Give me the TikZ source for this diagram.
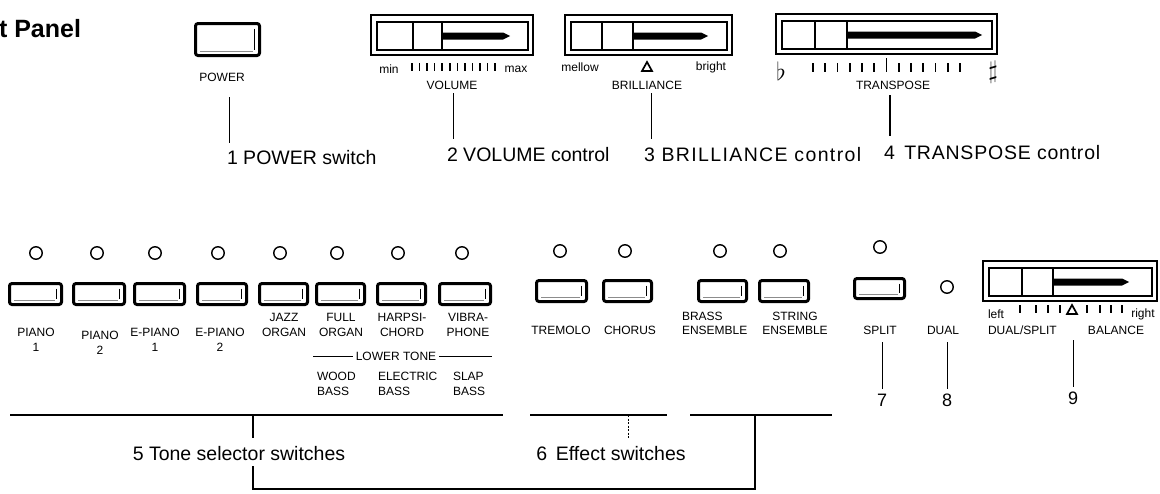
\documentclass[tikz,border=0pt]{standalone}
\usepackage{fontspec}
\setmainfont{Liberation Sans}
\usetikzlibrary{calc}
\tikzset{
  every node/.style={inner sep=0pt, outer sep=0pt},
  big/.style={font=\fontsize{19.5}{22}\selectfont},
  lbl/.style={font=\fontsize{12}{14.5}\selectfont, align=center},
  lbll/.style={font=\fontsize{12}{14.5}\selectfont, align=left},
  num/.style={font=\fontsize{18}{20}\selectfont},
  ttl/.style={font=\fontsize{25}{28}\selectfont\bfseries},
  btn/.style={draw, line width=3pt, rounded corners=2.5pt},
  led/.style={circle, draw, line width=1.4pt, minimum size=12.5pt},
  ldr/.style={line width=0.9pt},
  brk/.style={line width=1.2pt},
  tk/.style={line width=1.6pt},
  tri/.style={line width=1.7pt, line join=miter},
}
\newcommand\pushbtn[5]{%
  \node[btn, minimum width=#4pt-3pt, minimum height=#5pt-3pt] (#1) at (#2,#3) {};
  \draw[line width=1pt] ([xshift=-5pt,yshift=-5pt]#1.north east) -- ([xshift=-5pt,yshift=5.5pt]#1.south east);
  \draw[line width=0.6pt, black!45] ([xshift=4.5pt,yshift=4pt]#1.south west) -- ([xshift=-6.5pt,yshift=4pt]#1.south east);
}
\newcommand\slidr[8]{%
  \draw[line width=1.1pt] (#2-6,#3-7) rectangle (#4+5,#5+5);
  \draw[line width=2.4pt] (#2,#3) rectangle (#4,#5);
  \draw[line width=2.8pt] (#6,#3) -- (#6,#5);
  \draw[line width=2.8pt] (#7,#3) -- (#7,#5);
  \fill (#7,{(#3+#5)/2-3.5}) -- (#8-7,{(#3+#5)/2-3.5}) -- (#8,{(#3+#5)/2}) -- (#8-7,{(#3+#5)/2+3.5}) -- (#7,{(#3+#5)/2+3.5}) -- cycle;
  \coordinate (#1) at ({(#2+#4)/2},{(#3+#5)/2});
}
\begin{document}
\begin{tikzpicture}[x=1pt, y=-1pt]
\fill[white] (0,0) rectangle (1160,493);
\useasboundingbox (0,0) rectangle (1160,493);

% title
\node[ttl, anchor=west] (title) at (-1,29) {t Panel};

% ---------- top row ----------
\pushbtn{bpower}{227.5}{39.5}{67}{35}
\node[lbl] (lpower) at (222,77) {POWER};

\slidr{svol}{377}{22}{528}{50}{413}{442}{510}
\node[lbl] (lmin) at (389,69) {min};
\node[lbl] (lmax) at (516,69) {max};
\foreach \i in {0,...,11} \draw[tk] ({412+\i*7.55},63) -- ({412+\i*7.55},71);
\node[lbl] (lvolume) at (452,85) {VOLUME};

\slidr{sbri}{571}{22}{727}{50}{602}{633}{708}
\node[lbl] (lmellow) at (580,67) {mellow};
\node[lbl] (lbright) at (711,67) {bright};
\draw[tri] (642,71) -- (652,71) -- (647,62) -- cycle;
\node[lbl] (lbrill) at (647,85) {BRILLIANCE};

\slidr{stra}{782}{21}{992}{49}{815}{847}{982}
\node[font=\fontsize{23}{24}\selectfont] (lflat) at (781,71) {$\flat$};
\node[font=\fontsize{23}{24}\selectfont] (lsharp) at (993,72) {$\sharp$};
\foreach \i in {0,...,12} \draw[tk] ({813+\i*12.25},63) -- ({813+\i*12.25},72);
\draw[tk] (886.5,58) -- (886.5,72);
\node[lbl] (ltrans) at (893,85) {TRANSPOSE};

% top captions
\node[big, anchor=west] (t1) at (227,158) {1 POWER switch};
\node[big, anchor=west] (t2) at (447,155) {2 VOLUME control};
\node[big, anchor=west] (t3) at (644,155) {\addfontfeatures{LetterSpace=7}3 BRILLIANCE control};
\node[big, anchor=west] (t4) at (884,153) {\addfontfeatures{LetterSpace=4}4\, TRANSPOSE control};

\coordinate (c1) at (229,97);
\coordinate (c2) at (453,93);
\coordinate (c3) at (651,93);
\coordinate (c4) at (890,95);
\draw[ldr, shorten >=8pt] (c1) -- (c1 |- t1.north);
\draw[ldr, shorten >=9pt] (c2) -- (c2 |- t2.north);
\draw[ldr, shorten >=9pt] (c3) -- (c3 |- t3.north);
\draw[ldr, line width=1.2pt, shorten >=10pt] (c4) -- (c4 |- t4.north);

% ---------- tone selector row ----------
\foreach \n/\x in {1/36, 2/97, 3/155, 4/218, 5/280, 6/337, 7/398, 8/462}
  \node[led] (led\n) at (\x,253) {};
\pushbtn{b1}{35.5}{294}{55}{24}
\pushbtn{b2}{99}{294}{54}{24}
\pushbtn{b3}{159.5}{294}{53}{24}
\pushbtn{b4}{222}{294}{52}{24}
\pushbtn{b5}{283.5}{294}{51}{24}
\pushbtn{b6}{340.5}{294}{51}{24}
\pushbtn{b7}{401.5}{294}{51}{24}
\pushbtn{b8}{465}{294}{54}{24}

\node[lbl] (lp1) at (36,340) {PIANO\\1};
\node[lbl] (lp2) at (100,343) {PIANO\\2};
\node[lbl] (lep1) at (155,340) {E-PIANO\\1};
\node[lbl] (lep2) at (220,340) {E-PIANO\\2};
\node[lbl] (ljazz) at (284,325) {JAZZ\\ORGAN};
\node[lbl] (lfull) at (341,325) {FULL\\ORGAN};
\node[lbl] (lharp) at (402,325) {HARPSI-\\CHORD};
\node[lbl] (lvib) at (468,325) {VIBRA-\\PHONE};

\node[lbl] (llower) at (396,356) {LOWER TONE};
\coordinate (lt1) at (313,356);
\coordinate (lt2) at (492,356);
\draw[ldr] (lt1) -- ([xshift=-3pt]llower.west);
\draw[ldr] ([xshift=3pt]llower.east) -- (lt2);
\node[lbll, anchor=west] (lwood) at (317,384) {WOOD\\BASS};
\node[lbll, anchor=west] (lelec) at (378,384) {ELECTRIC\\BASS};
\node[lbll, anchor=west] (lslap) at (453,384) {SLAP\\BASS};

% ---------- effect row ----------
\foreach \n/\x in {9/560, 10/625, 11/720, 12/780}
  \node[led] (led\n) at (\x,251) {};
\node[led] (ledsplit) at (880,247) {};
\node[led] (leddual) at (947,287) {};
\pushbtn{btrem}{561.5}{291}{53}{24}
\pushbtn{bchor}{627.5}{291}{51}{24}
\pushbtn{bbrass}{722.5}{291}{51}{24}
\pushbtn{bstring}{784}{291}{52}{24}
\pushbtn{bsplit}{879.5}{288.5}{53}{23}

\node[lbl] (ltrem) at (561,330) {TREMOLO};
\node[lbl] (lchor) at (630,330) {CHORUS};
\node[lbll, anchor=west] (lbrass) at (682,323.5) {BRASS\\ENSEMBLE};
\node[lbl] (lstring) at (795,323.5) {STRING\\ENSEMBLE};
\node[lbl] (lsplit) at (880,330) {SPLIT};
\node[lbl] (ldual) at (943,330) {DUAL};

% balance slider
\slidr{sbal}{989}{268}{1152}{296}{1022}{1053}{1129}
\node[lbl] (lleft) at (996,314) {left};
\node[lbl] (lright) at (1143,314) {right};
\foreach \x in {1020,1036,1048,1060,1087,1100,1111,1122} \draw[tk] (\x,305) -- (\x,313);
\draw[tri] (1067,314) -- (1077,314) -- (1072,305) -- cycle;
\node[lbll, anchor=west] (ldualsplit) at (988,330) {DUAL/SPLIT};
\node[lbl] (lbalance) at (1116,330) {BALANCE};

\node[num] (n7) at (882,400) {7};
\node[num] (n8) at (947,400) {8};
\node[num] (n9) at (1073,398) {9};
\coordinate (c7) at (882,342);
\coordinate (c8) at (947,342);
\coordinate (c9) at (1073,340);
\draw[ldr] (c7) -- ([yshift=5pt]c7 |- n7.north);
\draw[ldr] (c8) -- ([yshift=5pt]c8 |- n8.north);
\draw[ldr] (c9) -- ([yshift=5pt]c9 |- n9.north);

% ---------- bottom brackets ----------
\coordinate (s1a) at (10,415);  \coordinate (s1b) at (503,415);
\coordinate (s2a) at (530,415); \coordinate (s2b) at (667,415);
\coordinate (s3a) at (690,415); \coordinate (s3b) at (832,415);
\draw[brk] (s1a) -- (s1b);
\draw[brk] (s2a) -- (s2b);
\draw[brk] (s3a) -- (s3b);

\node[big] (t5) at (239,454) {5 Tone selector switches};
\node[big] (t6) at (611,454) {6\, Effect switches};

\coordinate (c5) at (253,415);
\coordinate (c6) at (628,415);
\coordinate (c6b) at (755,415);
\coordinate (br) at (253,489);
\draw[brk] (c5) -- ([yshift=9pt]c5 |- t5.north);
\draw[ldr, dash pattern=on 2pt off 1.5pt] (c6) -- ([yshift=9pt]c6 |- t6.north);
\draw[brk] ([yshift=-5pt]c5 |- t5.south) -- (br) -- (br -| c6b) -- (c6b);
\end{tikzpicture}
\end{document}
